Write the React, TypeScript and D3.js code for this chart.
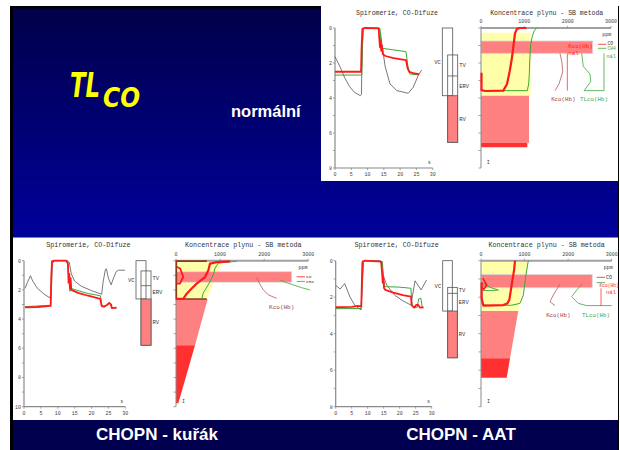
import React from "react";
import * as d3 from "d3";

type Pt = [number, number];

// ---------------- shared tick values ----------------
const spiroTicksX = [0, 5, 10, 15, 20, 25, 30];
const concTicksX = [0, 1000, 2000, 3000];

// ---------------- Panel 1: normální ----------------
const p1SpiroGray: Pt[] = [[0,1.64],[1.5,2.2],[3,2.85],[4.5,3.35],[6,3.68],[7.8,3.87],[8.1,3.8],[8.4,1.0],[8.7,0.1],[9.2,0],[13.5,0],[14,0.3],[14.4,0.9],[15.4,2.2],[16.9,3.2],[19,3.58],[22.5,3.73],[24,3.39],[25.6,2.7],[26.6,2.4]];
const p1SpiroGreen: Pt[] = [[0,2.69],[8.2,2.69],[8.4,1.2],[8.6,0.05],[9,0],[13.8,0.02],[14.1,0.8],[14.3,1.16],[16,1.2],[21.8,1.35],[22.4,2.2],[23,2.63],[25.8,2.68]];
const p1SpiroRed: Pt[] = [[0,2.5],[8,2.5],[8.15,1.2],[8.4,0.05],[9,0],[13.4,0.02],[13.6,0.6],[13.8,1.1],[14,0.7],[14.2,1.3],[14.4,1.0],[14.7,1.5],[15.5,1.6],[18,1.72],[21.8,1.83],[22.3,2.3],[22.8,2.5],[24,2.58],[25.8,2.63]];
const p1Vol = { vc: [0, 3.87], tv: [1.54, 2.74], erv: [2.74, 3.87], rv: [3.87, 6.53] };
const p1Yellow: Pt[] = [[0,0.27],[1147,0.27],[1147,3.87],[0,3.87]];
const p1PinkBar: Pt[] = [[0,0.74],[2578,0.74],[2578,1.45],[0,1.45]];
const p1RvPoly: Pt[] = [[0,3.87],[1108,3.87],[1108,6.55],[0,6.55]];
const p1DarkPoly: Pt[] = [[0,6.55],[1069,6.55],[1069,6.82],[0,6.82]];
const p1ConcRed: Pt[] = [[12,2.55],[12,3.55],[100,3.6],[515,3.58],[600,3.2],[660,2.5],[707,1.83],[750,1.0],[785,0.3],[830,0.05],[900,0],[1050,0]];
const p1ConcGreen: Pt[] = [[20,3.58],[1069,3.58],[1100,3.2],[1115,2.6],[1130,1.6],[1146,0.97],[1180,0.5],[1230,0.15],[1285,0]];
const p1KcoCurve: Pt[] = [[1823,1.45],[1870,2.0],[1885,2.5],[1800,3.2],[1708,3.58]];
const p1KcoLine: Pt[] = [[1992,1.45],[1992,3.58]];
const p1TlcoCurve: Pt[] = [[2324,1.45],[2361,2.2],[2515,2.63],[2532,3.07],[2377,3.58],[2838,3.58]];
const p1TlcoLine: Pt[] = [[2838,1.45],[2838,3.58]];

// ---------------- Panel 2: CHOPN - kuřák ----------------
const p2SpiroGray: Pt[] = [[0.3,1.9],[1,1.5],[1.9,1.03],[2.6,1.4],[4,1.9],[6,2.3],[7.7,2.55],[8.1,2.0],[8.4,0.2],[9,0],[12.5,0],[13.4,0.1],[13.7,0.5],[14,0.9],[15,1.4],[17,1.75],[20,2.05],[23,2.3],[23.4,1.5],[24.1,0.6],[24.4,0.55],[25,1.2],[25.8,1.65],[26.5,1.2],[27.3,0.75],[28,0.65],[29.9,0.65]];
const p2SpiroGreen: Pt[] = [[0.3,3.15],[7.9,3.05],[8.2,0.05],[9,0],[12.9,0],[13.3,1.2],[13.6,2.1],[14,1.9],[16,2.05],[19,2.25],[22.6,2.4],[23,3.0],[23.8,3.2],[24.6,3.0],[25.3,2.85],[26,3.2],[27.4,3.25]];
const p2SpiroRed: Pt[] = [[0.3,3.2],[4,3.17],[7.9,3.1],[8.1,1.0],[8.3,0.05],[9,0],[12.5,0],[13,0.2],[13.2,1.5],[13.4,0.9],[13.6,1.9],[13.8,1.2],[14,2.0],[16,2.2],[19,2.4],[22.6,2.62],[23,3.1],[23.5,3.15],[24.5,3.05],[25.2,2.9],[25.8,3.0],[26,3.25],[27.4,3.22]];
const p2Vol = { vc: [0, 2.62], tv: [0.7, 1.71], erv: [1.71, 2.62], rv: [2.62, 5.79] };
const p2Yellow: Pt[] = [[0,0],[1070,0],[700,2.62],[0,2.62]];
const p2PinkBar: Pt[] = [[0,0.75],[2624,0.75],[2624,1.48],[0,1.48]];
const p2RvPoly: Pt[] = [[0,2.62],[719,2.62],[431,5.79],[0,5.79]];
const p2DarkPoly: Pt[] = [[0,5.79],[431,5.79],[53,9.77],[0,9.77]];
const p2Brown: Pt[] = [[700,0.03],[8,0.03],[8,2.62],[696,2.62]];
const p2ConcRed: Pt[] = [[1225,0.04],[922,0.1],[771,0.2],[734,0.66],[658,1.12],[469,1.57],[356,1.91],[243,2.26],[166,2.62],[0,2.62]];
const p2ConcRedLoop: Pt[] = [[15,0.41],[91,0.53],[166,1.1],[91,1.56],[15,1.56]];
const p2ConcGreen: Pt[] = [[1376,0.04],[960,0.16],[885,0.5],[847,0.96],[734,1.64],[620,2.2],[582,2.62]];
const p2KcoCurve: Pt[] = [[1830,1.16],[1900,1.6],[1980,2.0],[2100,2.35],[2284,2.58]];
const p2TlcoCurve: Pt[] = [[2358,1.32],[2500,1.5],[2660,1.66],[2850,1.85],[3039,2.0]];

// ---------------- Panel 3: CHOPN - AAT ----------------
const p3SpiroGray: Pt[] = [[0,1.35],[1.4,1.55],[2.8,1.25],[4.5,2.0],[6,2.45],[7.9,2.7],[8.3,1.5],[8.7,0.1],[9.3,0],[14,0],[14.5,0.3],[15,0.9],[16,1.35],[18.5,1.9],[21,2.2],[23.5,2.43],[24.8,1.1],[26.7,1.6],[28.4,1.05]];
const p3SpiroGreen: Pt[] = [[0,2.63],[8,2.62],[8.3,0.1],[9,0],[14.6,0.05],[14.9,1.0],[15.3,1.42],[20,1.45],[23.5,1.51],[23.8,2.4],[24.5,2.58],[25.5,2.55],[25.9,2.1],[26.6,2.05],[27,2.5],[27.4,2.6]];
const p3SpiroRed: Pt[] = [[0,2.55],[5,2.53],[7,2.48],[8,2.5],[8.2,1.0],[8.4,0.05],[9,0],[14.2,0.05],[14.5,0.7],[14.7,1.2],[14.9,0.9],[15.1,1.5],[15.5,1.6],[18,1.75],[21,1.88],[23.5,1.97],[23.8,2.45],[24.5,2.57],[25.2,2.42],[25.8,2.42],[26.3,2.57],[27.4,2.55]];
const p3Vol = { vc: [0, 2.76], tv: [1.46, 1.79], erv: [1.79, 2.76], rv: [2.76, 5.32] };
const p3Yellow: Pt[] = [[0,0],[1086,0],[856,2.76],[0,2.76]];
const p3PinkBar: Pt[] = [[0,0.75],[2555,0.75],[2555,1.48],[0,1.48]];
const p3RvPoly: Pt[] = [[0,2.76],[856,2.76],[666,5.35],[0,5.35]];
const p3DarkPoly: Pt[] = [[0,5.35],[666,5.35],[590,6.41],[0,6.41]];
const p3ConcRed: Pt[] = [[781,0],[760,0.5],[704,1.33],[650,2.15],[600,2.35],[512,2.43],[53,2.46],[15,2.06],[15,1.2]];
const p3ConcRedLoop: Pt[] = [[40,0.95],[131,1.33],[60,1.58],[20,1.45]];
const p3ConcGreen: Pt[] = [[1086,0],[1030,0.8],[972,1.88],[895,2.34],[700,2.44],[168,2.46],[30,2.4],[15,1.9]];
const p3ConcGreenLoop: Pt[] = [[20,1.2],[200,1.45],[398,1.61],[200,1.64],[30,1.62]];
const p3KcoCurve: Pt[] = [[1813,1.29],[1730,1.6],[1660,1.88],[1584,2.25],[1699,2.46]];
const p3TlcoCurve: Pt[] = [[2312,1.29],[2200,1.6],[2082,1.97],[2234,2.34],[2427,2.46],[3000,2.46]];
const p3KcoLine: Pt[] = [[2755,1.51],[2755,2.47]];

const RED = "#ff1a1a";
const GREEN = "#3aa83a";
const DARKRED = "#b05a5a";
const mono = "'Liberation Mono','DejaVu Sans Mono',monospace";

type Note = { text: string; x: number; y: number; color: string; anchor?: string; size?: number };
type Mark = { pts: Pt[]; color: string; width: number };

interface PanelCfg {
  yMax: number;
  yRange: [number, number];
  spiroX: [number, number];
  concX: [number, number];
  volX: [number, number, number, number];
  titleY: number;
  titleSize: number;
  spiroTitleX: number;
  concTitleX: number;
  gray: Pt[]; green: Pt[]; red: Pt[];
  vol: { vc: number[]; tv: number[]; erv: number[]; rv: number[] };
  yellow: Pt[]; pinkBar: Pt[]; rvPoly: Pt[]; darkPoly: Pt[];
  concMarks: Mark[];
  notes: Note[];
}

const panels: PanelCfg[] = [
  {
    yMax: 8, yRange: [28, 168], spiroX: [335, 432.7], concX: [481, 611],
    volX: [442.3, 452.7, 447.7, 457.7], titleY: 14.5, titleSize: 6.5,
    spiroTitleX: 397, concTitleX: 546.7,
    gray: p1SpiroGray, green: p1SpiroGreen, red: p1SpiroRed, vol: p1Vol,
    yellow: p1Yellow, pinkBar: p1PinkBar, rvPoly: p1RvPoly, darkPoly: p1DarkPoly,
    concMarks: [
      { pts: p1ConcGreen, color: GREEN, width: 1 },
      { pts: p1ConcRed, color: RED, width: 2.2 },
      { pts: p1KcoCurve, color: DARKRED, width: 0.8 },
      { pts: p1KcoLine, color: RED, width: 0.7 },
      { pts: p1TlcoCurve, color: GREEN, width: 0.8 },
      { pts: p1TlcoLine, color: GREEN, width: 0.8 },
      { pts: [[2700,0.93],[2890,0.93]], color: RED, width: 0.8 },
      { pts: [[2700,1.16],[2890,1.16]], color: GREEN, width: 0.8 },
    ],
    notes: [
      { text: "ppm", x: 2900, y: 0.36, color: "#333", anchor: "middle", size: 5 },
      { text: "CO", x: 2920, y: 0.88, color: "#333", size: 4.6 },
      { text: "CH4", x: 2920, y: 1.18, color: GREEN, size: 4.6 },
      { text: "Kco(Hb)", x: 2015, y: 1.03, color: RED, size: 5.8 },
      { text: "nál", x: 2015, y: 1.43, color: RED, size: 5.8 },
      { text: "nál", x: 2890, y: 1.58, color: GREEN, size: 5.4 },
      { text: "Kco(Hb)", x: 1900, y: 4.07, color: "#a03a3a", anchor: "middle", size: 5.8 },
      { text: "TLco(Hb)", x: 2608, y: 4.07, color: GREEN, anchor: "middle", size: 5.8 },
    ],
  },
  {
    yMax: 10, yRange: [260.7, 406.7], spiroX: [24, 125.3], concX: [176, 308.3],
    volX: [136, 146, 141, 151], titleY: 246.5, titleSize: 6.7,
    spiroTitleX: 88.3, concTitleX: 243.3,
    gray: p2SpiroGray, green: p2SpiroGreen, red: p2SpiroRed, vol: p2Vol,
    yellow: p2Yellow, pinkBar: p2PinkBar, rvPoly: p2RvPoly, darkPoly: p2DarkPoly,
    concMarks: [
      { pts: p2Brown, color: "#8a3a20", width: 1.6 },
      { pts: p2ConcGreen, color: GREEN, width: 1 },
      { pts: p2ConcRed, color: RED, width: 2.2 },
      { pts: p2ConcRedLoop, color: RED, width: 1.8 },
      { pts: p2KcoCurve, color: DARKRED, width: 0.8 },
      { pts: p2TlcoCurve, color: GREEN, width: 0.8 },
      { pts: [[2737,1.1],[2926,1.1]], color: RED, width: 0.8 },
      { pts: [[2737,1.42],[2926,1.42]], color: GREEN, width: 0.8 },
    ],
    notes: [
      { text: "ppm", x: 2880, y: 0.48, color: "#333", anchor: "middle", size: 5 },
      { text: "CO", x: 2950, y: 1.08, color: "#333", size: 4.4 },
      { text: "CH4", x: 2950, y: 1.45, color: "#333", size: 4.4 },
      { text: "Kco(Hb)", x: 2397, y: 3.15, color: "#a03a3a", anchor: "middle", size: 6 },
    ],
  },
  {
    yMax: 8, yRange: [260.7, 406.7], spiroX: [335.7, 431.7], concX: [481, 611.7],
    volX: [442.7, 452.3, 447.7, 457.3], titleY: 246.5, titleSize: 6.7,
    spiroTitleX: 396.7, concTitleX: 546.7,
    gray: p3SpiroGray, green: p3SpiroGreen, red: p3SpiroRed, vol: p3Vol,
    yellow: p3Yellow, pinkBar: p3PinkBar, rvPoly: p3RvPoly, darkPoly: p3DarkPoly,
    concMarks: [
      { pts: p3ConcGreen, color: GREEN, width: 1 },
      { pts: p3ConcGreenLoop, color: GREEN, width: 0.9 },
      { pts: p3ConcRed, color: RED, width: 2.2 },
      { pts: p3ConcRedLoop, color: RED, width: 1.6 },
      { pts: p3KcoCurve, color: DARKRED, width: 0.8 },
      { pts: p3TlcoCurve, color: GREEN, width: 0.8 },
      { pts: p3KcoLine, color: RED, width: 0.7 },
      { pts: [[2656,0.91],[2847,0.91]], color: RED, width: 0.8 },
      { pts: [[2656,1.2],[2847,1.2]], color: GREEN, width: 0.8 },
    ],
    notes: [
      { text: "ppm", x: 2923, y: 0.38, color: "#333", anchor: "middle", size: 5 },
      { text: "CO", x: 2870, y: 0.91, color: "#333", size: 5 },
      { text: "Kco(Hb)", x: 2720, y: 1.33, color: RED, size: 4.6 },
      { text: "nál", x: 2870, y: 1.72, color: RED, size: 5.5 },
      { text: "Kco(Hb)", x: 1775, y: 2.98, color: "#a03a3a", anchor: "middle", size: 5.8 },
      { text: "TLco(Hb)", x: 2640, y: 2.98, color: GREEN, anchor: "middle", size: 5.8 },
    ],
  },
];

function Panel({ c }: { c: PanelCfg }) {
  const sx = d3.scaleLinear().domain([0, 30]).range(c.spiroX);
  const sy = d3.scaleLinear().domain([0, c.yMax]).range(c.yRange);
  const cx = d3.scaleLinear().domain([0, 3000]).range(c.concX);
  const sLine = d3.line<Pt>().x((d) => sx(d[0])).y((d) => sy(d[1]));
  const cLine = d3.line<Pt>().x((d) => cx(d[0])).y((d) => sy(d[1]));
  const poly = (pts: Pt[]) => (cLine(pts) || "") + "Z";
  const [top, bottom] = c.yRange;
  const yTicks = d3.range(0, c.yMax + 1);
  const axis = "#8a8a8a";
  const [v0, v1, b0, b1] = c.volX;
  const mid = (r: number[]) => (sy(r[0]) + sy(r[1])) / 2;
  return (
    <g>
      <text x={c.spiroTitleX} y={c.titleY} textAnchor="middle" fontFamily={mono} fontSize={c.titleSize} fill="#333">Spiromerie, CO-Difuze</text>
      <text x={c.concTitleX} y={c.titleY} textAnchor="middle" fontFamily={mono} fontSize={c.titleSize} fill="#333">Koncentrace plynu - SB metoda</text>

      {/* spirometry axes */}
      <line x1={sx(0)} x2={sx(0)} y1={top} y2={bottom} stroke={axis} strokeWidth={1.2} />
      <line x1={sx(0)} x2={sx(30)} y1={bottom} y2={bottom} stroke={axis} strokeWidth={1.2} />
      {yTicks.map((t) => (
        <line key={"yt" + t} x1={sx(0) - 2} x2={sx(0)} y1={sy(t)} y2={sy(t)} stroke={axis} strokeWidth={0.8} />
      ))}
      {yTicks.filter((t) => t % 2 === 0).map((t) => (
        <text key={"yl" + t} x={sx(0) - 3} y={sy(t) + 1.8} textAnchor="end" fontFamily={mono} fontSize={5} fill="#444">{t}</text>
      ))}
      {spiroTicksX.map((t) => (
        <g key={"xt" + t}>
          <line x1={sx(t)} x2={sx(t)} y1={bottom} y2={bottom + 2} stroke={axis} strokeWidth={0.8} />
          <text x={sx(t)} y={bottom + 8} textAnchor="middle" fontFamily={mono} fontSize={5} fill="#444">{t}</text>
        </g>
      ))}
      <text x={sx(28.5)} y={bottom - 4} fontFamily={mono} fontSize={5} fill="#444">s</text>

      {/* spirometry curves */}
      <path d={sLine(c.gray) || ""} fill="none" stroke="#555" strokeWidth={0.8} />
      <path d={sLine(c.green) || ""} fill="none" stroke={GREEN} strokeWidth={1} />
      <path d={sLine(c.red) || ""} fill="none" stroke={RED} strokeWidth={1.8} strokeLinejoin="round" />

      {/* volume bars */}
      <rect x={v0} y={sy(c.vol.vc[0])} width={v1 - v0} height={sy(c.vol.vc[1]) - sy(c.vol.vc[0])} fill="#fff" stroke="#555" strokeWidth={0.8} />
      <rect x={b0} y={sy(c.vol.tv[0])} width={b1 - b0} height={sy(c.vol.rv[1]) - sy(c.vol.tv[0])} fill="none" stroke="#555" strokeWidth={0.8} />
      <rect x={b0} y={sy(c.vol.rv[0])} width={b1 - b0} height={sy(c.vol.rv[1]) - sy(c.vol.rv[0])} fill="#ff8080" stroke="#555" strokeWidth={0.8} />
      <line x1={b0} x2={b1} y1={sy(c.vol.erv[0])} y2={sy(c.vol.erv[0])} stroke="#555" strokeWidth={0.8} />
      <text x={v0 - 1.5} y={mid(c.vol.vc) + 2} textAnchor="end" fontFamily={mono} fontSize={5.5} fill="#333">VC</text>
      <text x={b1 + 1.5} y={mid(c.vol.tv) + 2} fontFamily={mono} fontSize={5.5} fill="#333">TV</text>
      <text x={b1 + 1.5} y={mid(c.vol.erv) + 2} fontFamily={mono} fontSize={5.5} fill="#333">ERV</text>
      <text x={b1 + 1.5} y={mid(c.vol.rv) + 2} fontFamily={mono} fontSize={5.5} fill="#333">RV</text>

      {/* concentration regions */}
      <path d={poly(c.yellow)} fill="#ffffaa" />
      <path d={poly(c.pinkBar)} fill="#ff8080" stroke="#dcdcdc" strokeWidth={0.8} />
      <path d={poly(c.rvPoly)} fill="#ff8080" />
      <path d={poly(c.darkPoly)} fill="#ff3030" />

      {/* concentration axes */}
      <line x1={cx(0)} x2={cx(3000)} y1={top} y2={top} stroke="#a0a0a0" strokeWidth={2} />
      <line x1={cx(0)} x2={cx(0)} y1={top} y2={bottom} stroke={axis} strokeWidth={1} />
      {yTicks.map((t) => (
        <line key={"cy" + t} x1={cx(0) - 2.5} x2={cx(0)} y1={sy(t)} y2={sy(t)} stroke={axis} strokeWidth={0.8} />
      ))}
      {concTicksX.map((t) => (
        <g key={"cx" + t}>
          <line x1={cx(t)} x2={cx(t)} y1={top - 2} y2={top} stroke={axis} strokeWidth={0.8} />
          <text x={cx(t)} y={top - 5} textAnchor="middle" fontFamily={mono} fontSize={5} fill="#444">{t}</text>
        </g>
      ))}
      <text x={cx(135)} y={bottom - 4} fontFamily={mono} fontSize={5} fill="#444">I</text>

      {c.concMarks.map((m, i) => (
        <path key={"m" + i} d={cLine(m.pts) || ""} fill="none" stroke={m.color} strokeWidth={m.width} strokeLinejoin="round" />
      ))}
      {c.notes.map((n, i) => (
        <text key={"n" + i} x={cx(n.x)} y={sy(n.y) + (n.size || 5) * 0.35} textAnchor={n.anchor || "start"} fontFamily={mono} fontSize={n.size || 5} fill={n.color}>{n.text}</text>
      ))}
    </g>
  );
}

export default function App() {
  return (
    <svg width={620} height={450} style={{ position: "absolute", left: 0, top: 0, display: "block" }}>
      <defs>
        <linearGradient id="bg" x1="0" y1="0" x2="0" y2="1">
          <stop offset="0" stopColor="#00004a" />
          <stop offset="1" stopColor="#00009c" />
        </linearGradient>
      </defs>
      <rect x={0} y={0} width={620} height={450} fill="#fff" />
      <rect x={10} y={6} width={609} height={444} fill="#000" />
      <rect x={13} y={8.5} width={605} height={229} fill="url(#bg)" />
      <rect x={321} y={0} width={297} height={181} fill="#fff" />
      <rect x={13} y={237.5} width={605} height={182.5} fill="#fff" />
      <rect x={13} y={420} width={605} height={30} fill="#00004e" />

      <text x={70} y={97} fill="#ffff00" fontFamily="'DejaVu Sans',sans-serif" fontStyle="italic" fontWeight="bold" fontSize={33}>
        <tspan textLength={30} lengthAdjust="spacingAndGlyphs">TL</tspan>
        <tspan x={103} y={107} fontSize={26} textLength={37} lengthAdjust="spacingAndGlyphs">CO</tspan>
      </text>
      <text x={231} y={116.5} fill="#fff" fontFamily="'Liberation Sans',Arial,sans-serif" fontWeight="bold" fontSize={16.5}>normální</text>
      <text x={157} y={440} textAnchor="middle" fill="#fff" fontFamily="'Liberation Sans',Arial,sans-serif" fontWeight="bold" fontSize={17}>CHOPN - kuřák</text>
      <text x={461} y={440} textAnchor="middle" fill="#fff" fontFamily="'Liberation Sans',Arial,sans-serif" fontWeight="bold" fontSize={17}>CHOPN - AAT</text>

      {panels.map((p, i) => (
        <Panel key={i} c={p} />
      ))}
    </svg>
  );
}
